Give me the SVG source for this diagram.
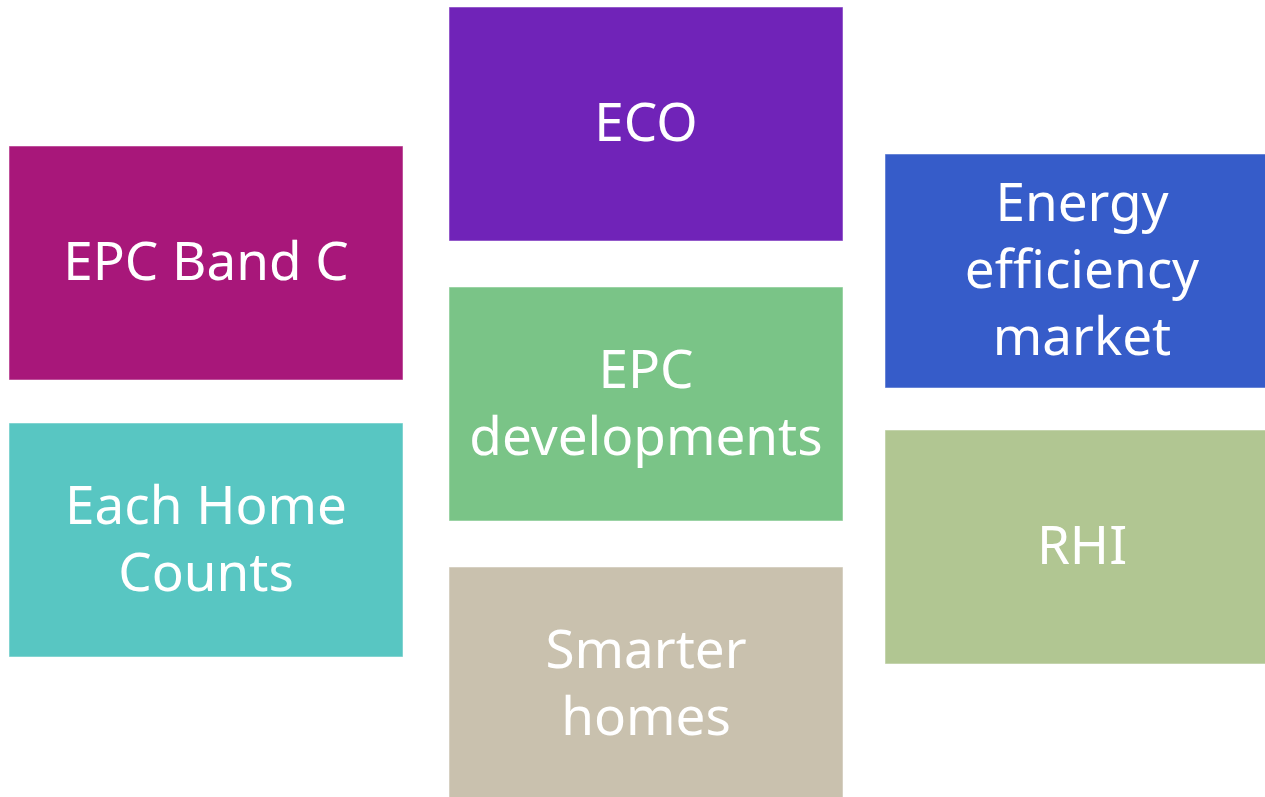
<svg xmlns="http://www.w3.org/2000/svg" width="1265" height="797" viewBox="0 0 1265 797">
<style>
rect.b{stroke:#ffffff;stroke-opacity:0.5;stroke-width:1}
text{font-family:"Noto Sans","Open Sans",sans-serif;font-size:53px;fill:#ffffff;text-anchor:middle}
</style>
<rect width="1265" height="797" fill="#ffffff"/>
<g id="connectors"></g>
<g id="epc-band-c"><rect class="b" x="9" y="146" width="394" height="234" fill="#A8177A"/><text x="206" y="280">EPC Band C</text></g>
<g id="eco"><rect class="b" x="449" y="7" width="394" height="234" fill="#7023B8"/><text x="646" y="141">ECO</text></g>
<g id="energy-efficiency-market"><rect class="b" x="885" y="154" width="394" height="234" fill="#365CC9"/><text x="1082" y="221">Energy</text><text x="1082" y="288">efficiency</text><text x="1082" y="355">market</text></g>
<g id="epc-developments"><rect class="b" x="449" y="287" width="394" height="234" fill="#7AC487"/><text x="646" y="387.5">EPC</text><text x="646" y="454.5">developments</text></g>
<g id="each-home-counts"><rect class="b" x="9" y="423" width="394" height="234" fill="#58C6C2"/><text x="206" y="523.5">Each Home</text><text x="206" y="590.5">Counts</text></g>
<g id="rhi"><rect class="b" x="885" y="430" width="394" height="234" fill="#B1C692"/><text x="1082" y="564">RHI</text></g>
<g id="smarter-homes"><rect class="b" x="449" y="567" width="394" height="234" fill="#C9C1AE"/><text x="646" y="668">Smarter</text><text x="646" y="735">homes</text></g>
</svg>
